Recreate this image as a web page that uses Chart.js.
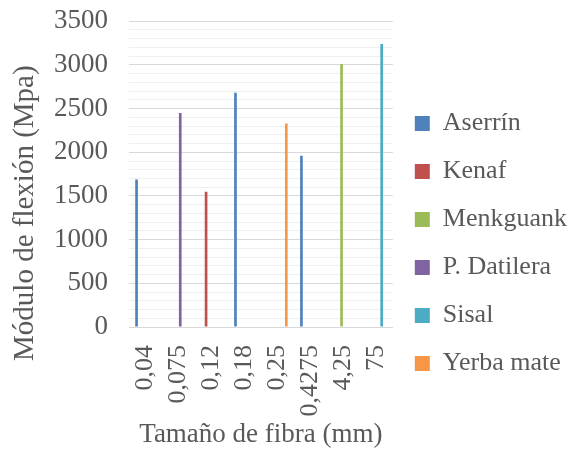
<!DOCTYPE html>
<html>
<head>
<meta charset="utf-8">
<script src="https://cdn.jsdelivr.net/npm/chart.js@4/dist/chart.umd.min.js"></script>
<style>
  html, body { margin: 0; padding: 0; background: #fff; }
  #wrap { width: 582px; height: 451px; }
</style>
</head>
<body>
<div id="wrap"><canvas id="grafico"></canvas></div>
<script>
// tamaños de fibra (mm)
const tamanos = ['0,04', '0,075', '0,12', '0,18', '0,25', '0,4275', '4,25', '75'];

// módulo de flexión (MPa) por fibra, null donde no hay ensayo
const aserrin    = [1690, null, null, 2680, null, 1960, null, null];
const kenaf      = [null, null, 1550, null, null, null, null, null];
const menkguank  = [null, null, null, null, null, null, 3010, null];
const datilera   = [null, 2450, null, null, null, null, null, null];
const sisal      = [null, null, null, null, null, null, null, 3240];
const yerbaMate  = [null, null, null, null, 2330, null, null, null];

const TEXTO = '#595959';
const FUENTE = 'Liberation Serif';
const INVISIBLE = 'rgba(0,0,0,0)';

const serie = (label, data, color) => ({
    label: label,
    data: data,
    backgroundColor: color,
    borderWidth: 0
});

// título del eje Y, algo más abajo que el centro del área del gráfico
const tituloEjeY = {
    id: 'tituloEjeY',
    afterDraw(chart, args, opts) {
        const { ctx, chartArea } = chart;
        ctx.save();
        ctx.translate(opts.x, (chartArea.top + chartArea.bottom) / 2 + opts.desplazamiento);
        ctx.rotate(-Math.PI / 2);
        ctx.font = opts.size + 'px "' + FUENTE + '"';
        ctx.fillStyle = TEXTO;
        ctx.textAlign = 'center';
        ctx.textBaseline = 'middle';
        ctx.fillText(opts.text, 0, 0);
        ctx.restore();
    }
};

new Chart(document.getElementById('grafico'), {
    type: 'bar',
    data: {
        labels: tamanos,
        datasets: [
            serie('Aserrín', aserrin, '#4f81bd'),
            serie('Kenaf', kenaf, '#c0504d'),
            serie('Menkguank', menkguank, '#9bbb59'),
            serie('P. Datilera', datilera, '#8064a2'),
            serie('Sisal', sisal, '#4bacc6'),
            serie('Yerba mate', yerbaMate, '#f79646')
        ]
    },
    plugins: [tituloEjeY],
    options: {
        responsive: true,
        maintainAspectRatio: false,
        animation: false,
        categoryPercentage: 0.65,
        barPercentage: 0.75,
        layout: { padding: { top: 0, left: 49, right: 5, bottom: 0 } },
        plugins: {
            tooltip: { enabled: false },
            tituloEjeY: { text: 'Módulo de flexión (Mpa)', size: 29, x: 25, desplazamiento: 39 },
            legend: {
                position: 'right',
                maxWidth: 260,
                title: { display: true, text: ' ', font: { size: 10 }, padding: 12 },
                labels: {
                    boxWidth: 15,
                    boxHeight: 15,
                    padding: 22,
                    color: TEXTO,
                    font: { family: FUENTE, size: 26 }
                }
            }
        },
        scales: {
            x: {
                grid: {
                    drawOnChartArea: false,
                    drawTicks: true,
                    tickLength: 14,
                    tickColor: INVISIBLE
                },
                border: { color: '#d9d9d9' },
                ticks: {
                    color: TEXTO,
                    font: { family: FUENTE, size: 26 },
                    minRotation: 90,
                    maxRotation: 90,
                    autoSkip: false,
                    padding: 4
                },
                title: {
                    display: true,
                    text: 'Tamaño de fibra (mm)',
                    color: TEXTO,
                    font: { family: FUENTE, size: 27 },
                    padding: { top: -2, bottom: 0 }
                }
            },
            y: {
                min: 0,
                max: 3500,
                border: { display: false },
                grid: {
                    drawTicks: true,
                    tickLength: 16,
                    tickColor: INVISIBLE,
                    color: c => c.tick.value % 500 === 0 ? '#d9d9d9' : '#efefef'
                },
                ticks: {
                    stepSize: 100,
                    autoSkip: false,
                    color: TEXTO,
                    font: { family: FUENTE, size: 27 },
                    padding: 5,
                    callback: v => v % 500 === 0 ? v : ''
                }
            }
        }
    }
});
</script>
</body>
</html>
